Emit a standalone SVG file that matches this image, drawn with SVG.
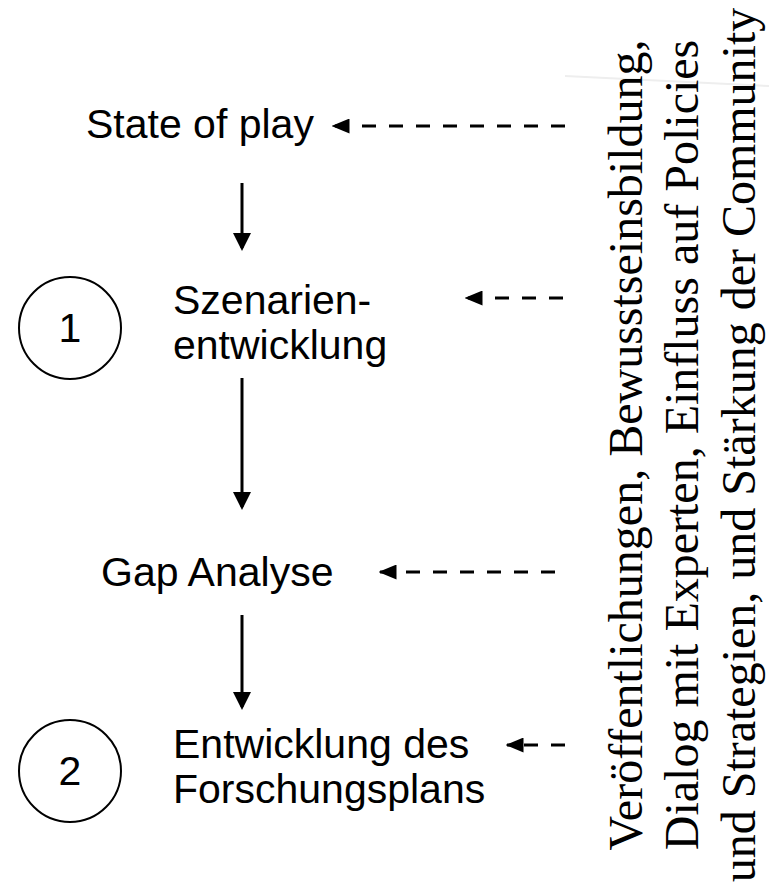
<svg xmlns="http://www.w3.org/2000/svg" width="769" height="883" viewBox="0 0 769 883">
<style>
.t{font-family:"Liberation Sans",Arial,sans-serif;font-size:41px;fill:#000}
.v{font-family:"Liberation Serif","Times New Roman",serif;font-size:48px;fill:#000}
.c{fill:none;stroke:#000;stroke-width:2}
.s{stroke:#000;stroke-width:3;fill:none}
.d{stroke:#000;stroke-width:3;fill:none;stroke-dasharray:14 13}
</style>
<defs>
<marker id="ah" markerWidth="6" markerHeight="6" refX="5" refY="3" orient="auto" markerUnits="strokeWidth">
<path d="M0,0 L6,3 L0,6 z" fill="#000"/>
</marker>
<marker id="dh" markerWidth="6" markerHeight="5" refX="5.5" refY="2.5" orient="auto" markerUnits="strokeWidth">
<path d="M0,0 L6,2.5 L0,5 z" fill="#000"/>
</marker>
</defs>
<line x1="565" y1="76" x2="769" y2="86" stroke="#eeeeee" stroke-width="2"/>
<g id="state"><text class="t" x="86" y="138">State of play</text></g>
<g id="szen"><text class="t" x="173" y="314">Szenarien-</text><text class="t" x="173" y="359">entwicklung</text></g>
<g id="gap"><text class="t" x="101" y="586">Gap Analyse</text></g>
<g id="forsch"><text class="t" x="173" y="758">Entwicklung des</text><text class="t" x="173" y="803">Forschungsplans</text></g>
<g id="circle1"><circle class="c" cx="70" cy="328" r="51"/><text class="t" x="70" y="342" text-anchor="middle">1</text></g>
<g id="circle2"><circle class="c" cx="70" cy="771" r="51"/><text class="t" x="70" y="785" text-anchor="middle">2</text></g>
<g id="outreach"><g transform="translate(0,445) rotate(-90)">
<text class="v" x="0" y="642" text-anchor="middle">Veröffentlichungen, Bewusstseinsbildung,</text>
<text class="v" x="0" y="698" text-anchor="middle">Dialog mit Experten, Einfluss auf Policies</text>
<text class="v" x="0" y="755" text-anchor="middle">und Strategien, und Stärkung der Community</text>
</g></g>
<g id="connectors">
<line class="s" x1="242" y1="183" x2="242" y2="248" marker-end="url(#ah)"/>
<line class="s" x1="242" y1="378" x2="242" y2="507" marker-end="url(#ah)"/>
<line class="s" x1="242" y1="615" x2="242" y2="707" marker-end="url(#ah)"/>
<line class="d" x1="565" y1="126" x2="333" y2="126" marker-end="url(#dh)"/>
<line class="d" x1="563" y1="298" x2="466" y2="298" marker-end="url(#dh)"/>
<line class="d" x1="555" y1="572" x2="380" y2="572" marker-end="url(#dh)"/>
<line class="d" x1="565" y1="745" x2="507" y2="745" marker-end="url(#dh)"/>
</g>
</svg>
